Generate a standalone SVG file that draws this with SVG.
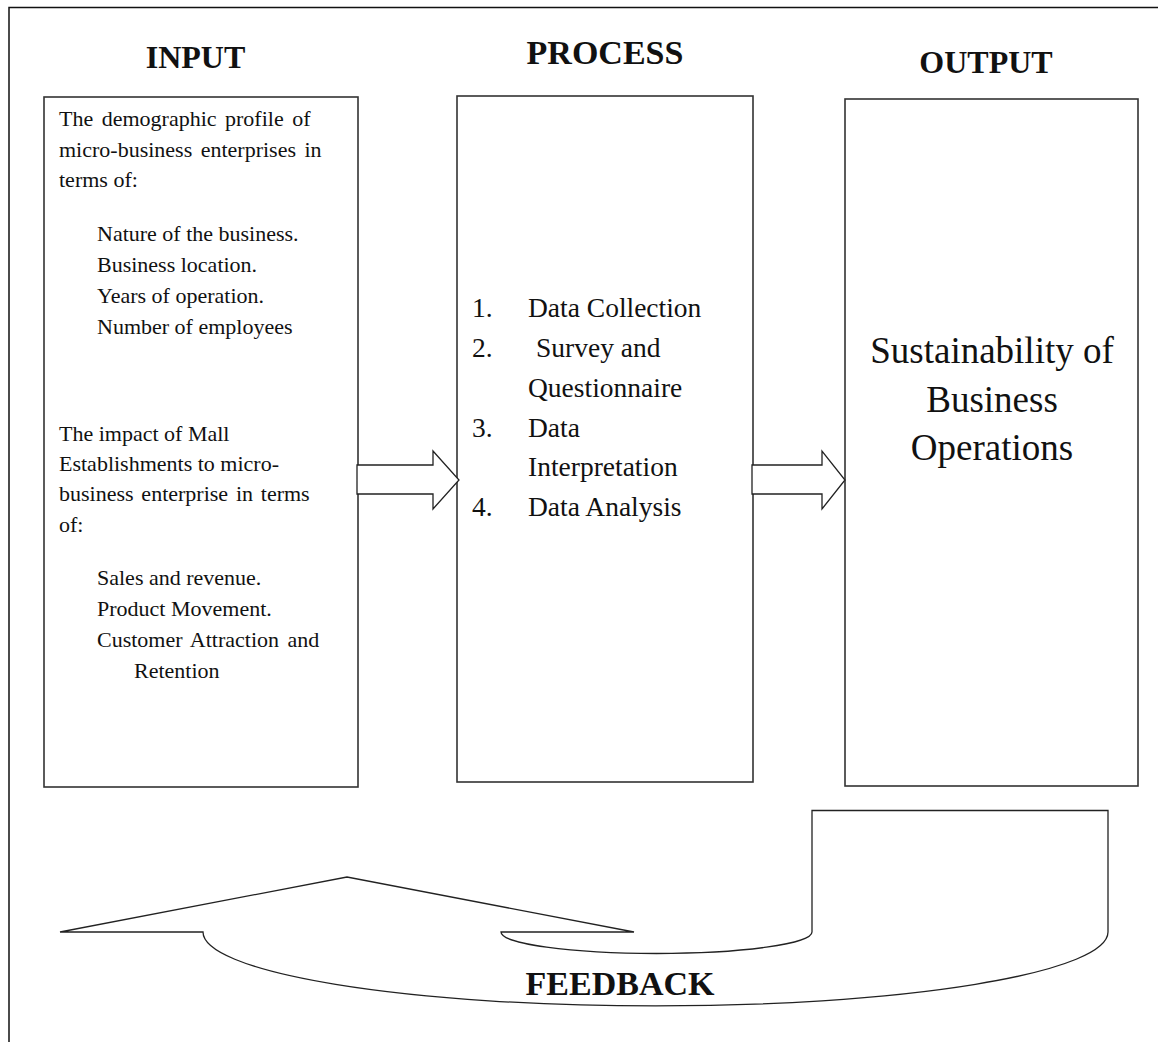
<svg xmlns="http://www.w3.org/2000/svg" width="1158" height="1042" viewBox="0 0 1158 1042">
<style>
  .frame { fill: none; stroke: #111; stroke-width: 1.5; }
  .box { fill: #fff; stroke: #333; stroke-width: 1.6; }
  .arrow { fill: #fff; stroke: #222; stroke-width: 1.3; stroke-linejoin: miter; }
  .title { font-family: "Liberation Serif", "Times New Roman", serif; font-weight: bold; font-size: 32px; fill: #111; text-anchor: middle; }
  .in { font-family: "Liberation Serif", "Times New Roman", serif; font-size: 22px; fill: #111; }
  .pr { font-family: "Liberation Serif", "Times New Roman", serif; font-size: 27.5px; fill: #111; }
  .out { font-family: "Liberation Serif", "Times New Roman", serif; font-size: 37px; fill: #111; text-anchor: middle; }
  .fb { font-family: "Liberation Serif", "Times New Roman", serif; font-weight: bold; font-size: 34px; fill: #111; text-anchor: middle; }
</style>
<rect width="1158" height="1042" fill="#fff"/>
<path class="frame" d="M9,1042 L9,7.5 L1158,7.5"/>

<text class="title" x="195.5" y="68">INPUT</text>
<text class="title" x="605" y="64" style="font-size:34px">PROCESS</text>
<text class="title" x="986" y="73">OUTPUT</text>

<g id="input">
  <rect class="box" x="44" y="97" width="314" height="690"/>
  <text class="in" x="59" y="126" word-spacing="3">The demographic profile of</text>
  <text class="in" x="59" y="157" word-spacing="3">micro-business enterprises in</text>
  <text class="in" x="59" y="187">terms of:</text>
  <text class="in" x="97" y="241">Nature of the business.</text>
  <text class="in" x="97" y="272">Business location.</text>
  <text class="in" x="97" y="303">Years of operation.</text>
  <text class="in" x="97" y="334">Number of employees</text>
  <text class="in" x="59" y="441">The impact of Mall</text>
  <text class="in" x="59" y="471">Establishments to micro-</text>
  <text class="in" x="59" y="501" word-spacing="2.3">business enterprise in terms</text>
  <text class="in" x="59" y="531.5">of:</text>
  <text class="in" x="97" y="585">Sales and revenue.</text>
  <text class="in" x="97" y="616">Product Movement.</text>
  <text class="in" x="97" y="647" word-spacing="3">Customer Attraction and</text>
  <text class="in" x="134" y="678">Retention</text>
</g>

<g id="process">
  <rect class="box" x="457" y="96" width="296" height="686"/>
  <text class="pr" x="472" y="317">1.</text>
  <text class="pr" x="528" y="317">Data Collection</text>
  <text class="pr" x="472" y="357">2.</text>
  <text class="pr" x="536" y="357">Survey and</text>
  <text class="pr" x="528" y="396.5">Questionnaire</text>
  <text class="pr" x="472" y="436.5">3.</text>
  <text class="pr" x="528" y="436.5">Data</text>
  <text class="pr" x="528" y="476">Interpretation</text>
  <text class="pr" x="472" y="516">4.</text>
  <text class="pr" x="528" y="516">Data Analysis</text>
</g>

<g id="output">
  <rect class="box" x="845" y="99" width="293" height="687"/>
  <text class="out" x="992" y="363">Sustainability of</text>
  <text class="out" x="992" y="411.5">Business</text>
  <text class="out" x="992" y="460">Operations</text>
</g>

<g id="connectors">
  <path class="arrow" d="M357,465 L433,465 L433,451 L459,480 L433,509 L433,494 L357,494 Z"/>
  <path class="arrow" d="M752,465 L822,465 L822,451 L845,480 L822,509 L822,494 L752,494 Z"/>
</g>

<g id="feedback">
  <path class="arrow" d="M203,932 L60,932 L347,877 L634,932 L501,932 A155.5,21.5 0 0 0 812,932 L812,810.5 L1108,810.5 L1108,932 A452.5,74 0 0 1 203,932 Z"/>
  <text class="fb" x="620" y="995">FEEDBACK</text>
</g>
</svg>
